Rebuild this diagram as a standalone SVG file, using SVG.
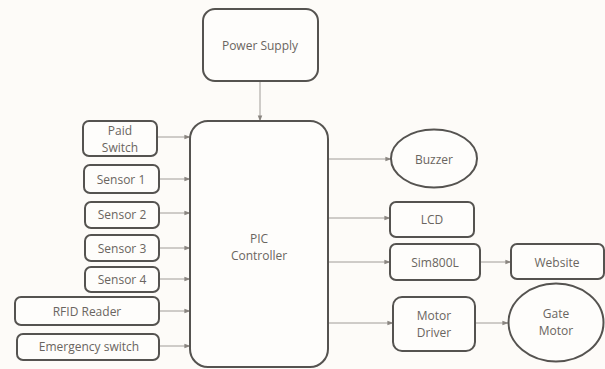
<svg xmlns="http://www.w3.org/2000/svg" width="605" height="369" viewBox="0 0 605 369">
<style>
.box{fill:#fefdfb;stroke:#555350;stroke-width:2}
.t{font-family:"Open Sans","Noto Sans",sans-serif;font-size:12px;fill:#6a6560;text-anchor:middle;dominant-baseline:central}
.c{stroke:#a09c98;stroke-width:1;fill:none;marker-end:url(#ah)}
</style>
<defs>
<marker id="ah" viewBox="0 0 8 8" refX="7.5" refY="4" markerWidth="6" markerHeight="6" markerUnits="userSpaceOnUse" orient="auto">
<path d="M0,1 L8,4 L0,7 Z" fill="#8a8580"/>
</marker>
</defs>
<rect width="605" height="369" fill="#fdfbf8"/>
<g id="connectors">
<line class="c" x1="260" y1="81" x2="260" y2="121"/>
<line class="c" x1="157" y1="137" x2="190" y2="137"/>
<line class="c" x1="159" y1="179" x2="190" y2="179"/>
<line class="c" x1="159" y1="213" x2="190" y2="213"/>
<line class="c" x1="159" y1="248" x2="190" y2="248"/>
<line class="c" x1="159" y1="279" x2="190" y2="279"/>
<line class="c" x1="159" y1="311" x2="190" y2="311"/>
<line class="c" x1="159" y1="346" x2="190" y2="346"/>
<line class="c" x1="328" y1="159" x2="391" y2="159"/>
<line class="c" x1="328" y1="218" x2="390" y2="218"/>
<line class="c" x1="328" y1="262" x2="390" y2="262"/>
<line class="c" x1="328" y1="323" x2="393" y2="323"/>
<line class="c" x1="480" y1="262" x2="511" y2="262"/>
<line class="c" x1="475" y1="323" x2="508" y2="323"/>
</g>
<g id="power-supply"><rect class="box" x="203" y="9" width="115" height="72" rx="12"/><text class="t" x="260" y="45">Power Supply</text></g>
<g id="pic-controller"><rect class="box" x="190" y="121" width="138" height="246" rx="18"/><text class="t" x="259" y="238">PIC</text><text class="t" x="259" y="255">Controller</text></g>
<g id="paid-switch"><rect class="box" x="83" y="121" width="74" height="35" rx="6"/><text class="t" x="120" y="130">Paid</text><text class="t" x="120" y="147">Switch</text></g>
<g id="sensor1"><rect class="box" x="84" y="165" width="75" height="28" rx="6"/><text class="t" x="121" y="179">Sensor 1</text></g>
<g id="sensor2"><rect class="box" x="85" y="202" width="74" height="26" rx="6"/><text class="t" x="122" y="214">Sensor 2</text></g>
<g id="sensor3"><rect class="box" x="85" y="235" width="74" height="26" rx="6"/><text class="t" x="122" y="248">Sensor 3</text></g>
<g id="sensor4"><rect class="box" x="85" y="267" width="74" height="25" rx="6"/><text class="t" x="122" y="279">Sensor 4</text></g>
<g id="rfid-reader"><rect class="box" x="15" y="297" width="144" height="28" rx="6"/><text class="t" x="87" y="311">RFID Reader</text></g>
<g id="emergency-switch"><rect class="box" x="17" y="334" width="142" height="26" rx="6"/><text class="t" x="89" y="346">Emergency switch</text></g>
<g id="buzzer"><ellipse class="box" cx="434" cy="158.5" rx="43" ry="29"/><text class="t" x="434" y="159">Buzzer</text></g>
<g id="lcd"><rect class="box" x="390" y="202" width="84" height="35" rx="6"/><text class="t" x="432" y="219">LCD</text></g>
<g id="sim800l"><rect class="box" x="390" y="244" width="90" height="36" rx="6"/><text class="t" x="435" y="262">Sim800L</text></g>
<g id="website"><rect class="box" x="511" y="244" width="93" height="35" rx="6"/><text class="t" x="557" y="262">Website</text></g>
<g id="motor-driver"><rect class="box" x="393" y="297" width="82" height="54" rx="9"/><text class="t" x="434" y="315">Motor</text><text class="t" x="434" y="332">Driver</text></g>
<g id="gate-motor"><ellipse class="box" cx="556" cy="322.5" rx="47.5" ry="39"/><text class="t" x="556" y="313">Gate</text><text class="t" x="556" y="330">Motor</text></g>
</svg>
